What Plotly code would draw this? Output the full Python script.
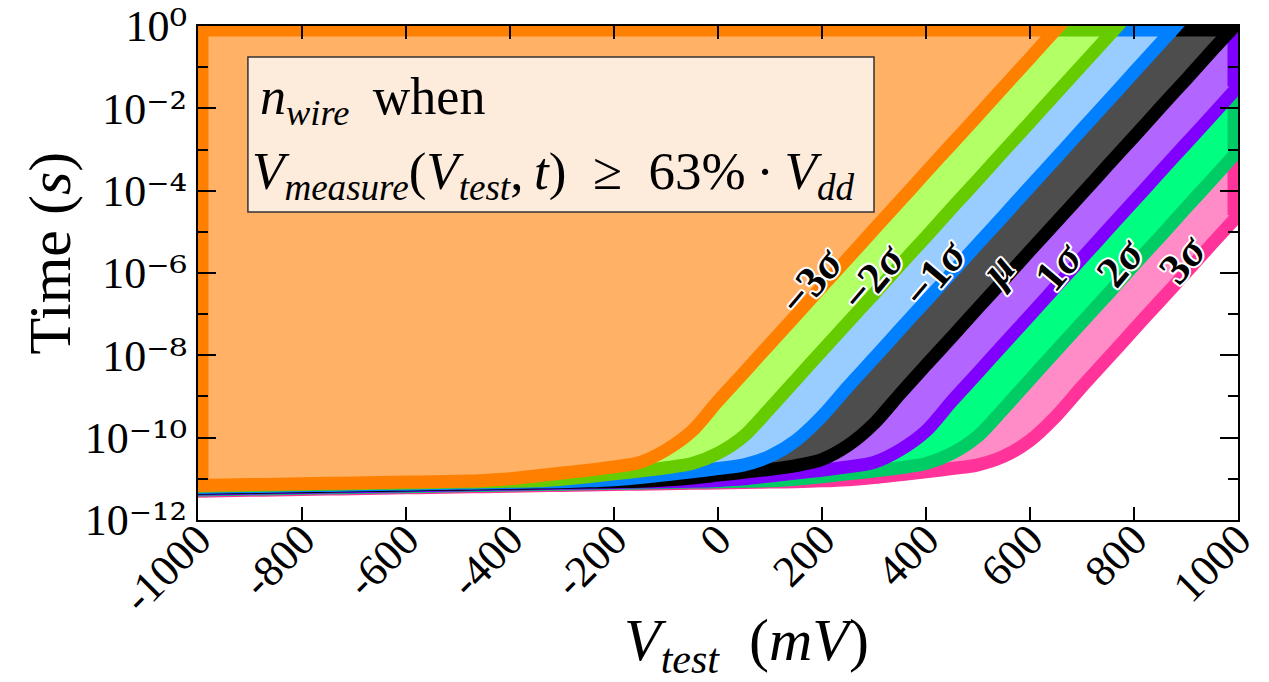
import numpy as np
import plotly.graph_objects as go

# Test voltage grid (mV)
v_test = [-1000, -950, -900, -850, -800, -750, -700, -650, -600, -550, -500, -450,
          -400, -350, -300, -250, -200, -150, -100, -50, 0, 50, 100, 150, 200, 250,
          300, 350, 400, 450, 500, 550, 600, 650, 700, 750, 800, 850, 900, 950, 1000]

# log10 of the time (s) at which V_measure reaches 63% of Vdd, per sigma corner
log_t_m3 = [-11.16, -11.15, -11.14, -11.13, -11.12, -11.11, -11.10, -11.09, -11.08, -11.07,
            -11.06, -11.04, -11.00, -10.93, -10.86, -10.79, -10.71, -10.60, -10.30, -9.84,
            -9.11, -8.42, -7.72, -7.03, -6.33, -5.64, -4.94, -4.25, -3.55, -2.86,
            -2.17, -1.47, -0.78, -0.08, 0.61, None, None, None, None, None, None]
log_t_m2 = [-11.18, -11.17, -11.16, -11.15, -11.14, -11.13, -11.12, -11.11, -11.10, -11.09,
            -11.08, -11.07, -11.06, -11.05, -11.01, -10.95, -10.88, -10.81, -10.73, -10.63,
            -10.38, -9.96, -9.29, -8.59, -7.89, -7.20, -6.51, -5.81, -5.12, -4.42,
            -3.73, -3.03, -2.34, -1.64, -0.95, -0.26, 0.44, None, None, None, None]
log_t_m1 = [-11.21, -11.20, -11.19, -11.18, -11.17, -11.16, -11.15, -11.14, -11.13, -11.12,
            -11.11, -11.10, -11.09, -11.08, -11.07, -11.05, -11.02, -10.97, -10.90, -10.83,
            -10.75, -10.66, -10.45, -10.07, -9.48, -8.76, -8.07, -7.37, -6.68, -5.99,
            -5.29, -4.60, -3.90, -3.21, -2.51, -1.82, -1.12, -0.43, 0.27, None, None]
log_t_mu = [-11.23, -11.22, -11.21, -11.20, -11.19, -11.18, -11.17, -11.16, -11.15, -11.14,
            -11.13, -11.12, -11.11, -11.10, -11.09, -11.08, -11.07, -11.06, -11.03, -10.98,
            -10.91, -10.84, -10.77, -10.68, -10.53, -10.19, -9.66, -8.94, -8.24, -7.55,
            -6.85, -6.16, -5.46, -4.77, -4.08, -3.38, -2.69, -1.99, -1.30, -0.60, 0.09]
log_t_p1 = [-11.25, -11.24, -11.23, -11.22, -11.21, -11.20, -11.19, -11.18, -11.17, -11.16,
            -11.15, -11.14, -11.13, -11.12, -11.11, -11.10, -11.09, -11.08, -11.07, -11.06,
            -11.04, -11.00, -10.93, -10.86, -10.79, -10.71, -10.60, -10.30, -9.84, -9.11,
            -8.42, -7.72, -7.03, -6.33, -5.64, -4.94, -4.25, -3.55, -2.86, -2.17, -1.47]
log_t_p2 = [-11.27, -11.26, -11.25, -11.24, -11.23, -11.22, -11.21, -11.20, -11.19, -11.18,
            -11.17, -11.16, -11.15, -11.14, -11.13, -11.12, -11.11, -11.10, -11.09, -11.08,
            -11.07, -11.06, -11.05, -11.01, -10.95, -10.88, -10.81, -10.73, -10.63, -10.38,
            -9.96, -9.29, -8.59, -7.89, -7.20, -6.51, -5.81, -5.12, -4.42, -3.73, -3.03]
log_t_p3 = [-11.30, -11.29, -11.28, -11.27, -11.26, -11.25, -11.24, -11.23, -11.22, -11.21,
            -11.20, -11.19, -11.18, -11.17, -11.16, -11.15, -11.14, -11.13, -11.12, -11.11,
            -11.10, -11.09, -11.08, -11.07, -11.05, -11.02, -10.97, -10.90, -10.83, -10.75,
            -10.66, -10.45, -10.07, -9.48, -8.76, -8.07, -7.37, -6.68, -5.99, -5.29, -4.60]

curve_names = ["\u22123<i>\u03c3</i>", "\u22122<i>\u03c3</i>", "\u22121<i>\u03c3</i>", "<i>\u03bc</i>",
               "1<i>\u03c3</i>", "2<i>\u03c3</i>", "3<i>\u03c3</i>"]
curve_data = [log_t_m3, log_t_m2, log_t_m1, log_t_mu, log_t_p1, log_t_p2, log_t_p3]
edge_colors = ["#FF8000", "#66CC00", "#0080FF", "#000000", "#8000FF", "#00CC66", "#FF3399"]
fill_colors = ["#FFB266", "#B3FF66", "#99CCFF", "#4D4D4D", "#B266FF", "#00FF80", "#FF8CC6"]

x_tick_vals = [-1000, -800, -600, -400, -200, 0, 200, 400, 600, 800, 1000]
x_tick_text = ["-1000", "-800", "-600", "-400", "-200", "0", "200", "400", "600", "800", "1000"]
y_tick_exp = [-12, -10, -8, -6, -4, -2, 0]
y_tick_power = ["\u207b\u00b9\u00b2", "\u207b\u00b9\u2070", "\u207b\u2078", "\u207b\u2076",
                "\u207b\u2074", "\u207b\u00b2", "\u2070"]
y_minor_exp = [-11, -9, -7, -5, -3, -1]

X_MIN, X_MAX = -1000, 1000
LOG_TOP = 0.0
SERIF = "Liberation Serif"
CURVE_SHAPE = dict(shape="spline", smoothing=0.8)


def valid_points(vals):
    v = np.array([xv for xv, lv in zip(v_test, vals) if lv is not None], dtype=float)
    lt = np.array([lv for lv in vals if lv is not None], dtype=float)
    return v, lt


fig = go.Figure()

# Regions are stacked from the slowest corner (3 sigma) to the fastest (-3 sigma);
# each one covers everything above / left of its own boundary curve.
for k in range(len(curve_data) - 1, -1, -1):
    v, lt = valid_points(curve_data[k])

    above = np.nonzero(lt >= LOG_TOP)[0]
    if len(above):
        j = above[0]
        v_cross = v[j - 1] + (LOG_TOP - lt[j - 1]) * (v[j] - v[j - 1]) / (lt[j] - lt[j - 1])
        bx = list(v[:j]) + [v_cross]
        by = list(lt[:j]) + [LOG_TOP]
        edge_x = [v_cross, X_MIN, X_MIN]
        edge_y = [LOG_TOP, LOG_TOP, lt[0]]
    else:
        v_cross = X_MAX
        bx = list(v)
        by = list(lt)
        edge_x = [X_MAX, X_MAX, X_MIN, X_MIN]
        edge_y = [lt[-1], LOG_TOP, LOG_TOP, lt[0]]

    # upper boundary of the region (top of the axes), then the curve filled up to it
    fig.add_trace(go.Scatter(
        x=[X_MIN, v_cross], y=[10 ** LOG_TOP, 10 ** LOG_TOP], mode="lines",
        line=dict(width=0, color=fill_colors[k]), hoverinfo="skip", showlegend=False))
    fig.add_trace(go.Scatter(
        x=bx, y=10 ** np.array(by), mode="lines", fill="tonexty",
        fillcolor=fill_colors[k], line=dict(width=0, color=fill_colors[k], **CURVE_SHAPE),
        hoverinfo="skip", showlegend=False))
    # border of the region along the frame
    fig.add_trace(go.Scatter(
        x=edge_x, y=10 ** np.array(edge_y), mode="lines",
        line=dict(width=21, color=edge_colors[k]),
        hoverinfo="skip", showlegend=False))
    # the corner curve itself
    fig.add_trace(go.Scatter(
        x=v, y=10 ** lt, mode="lines",
        line=dict(width=13, color=edge_colors[k], **CURVE_SHAPE),
        hoverinfo="skip", showlegend=False))

# Curve labels, placed just left of each boundary curve
outline = ", ".join(f"{dx}px {dy}px 0 white" for dx, dy in
                    [(2, 0), (-2, 0), (0, 2), (0, -2), (1.5, 1.5), (-1.5, -1.5), (1.5, -1.5), (-1.5, 1.5)])
for k, vals in enumerate(curve_data):
    v, lt = valid_points(vals)
    label_lt = -6.2 + 0.09 * k
    v_at = float(np.interp(label_lt, lt, v))
    fig.add_annotation(
        x=v_at - 30, y=label_lt, xref="x", yref="y", text=curve_names[k],
        xanchor="center", yanchor="middle",
        showarrow=False, textangle=-50,
        font=dict(family=SERIF, size=44, color="black", weight="bold", shadow=outline))

# Condition box
fig.add_shape(type="rect", xref="paper", yref="paper", x0=0.048, x1=0.65, y0=0.6235, y1=0.937,
              fillcolor="#FDEBDC", line=dict(color="#333333", width=1.5), layer="above")
fig.add_annotation(
    xref="paper", yref="paper", x=0.058, y=0.85, xanchor="left", yanchor="middle",
    text="<i>n</i><sub><i>wire</i></sub>\u2009 when", showarrow=False,
    font=dict(family=SERIF, size=52, color="black"))
fig.add_annotation(
    xref="paper", yref="paper", x=0.050, y=0.698, xanchor="left", yanchor="middle",
    text="<i>V</i><sub><i>measure</i></sub>(<i>V</i><sub><i>test</i></sub>,\u2009<i>t</i>)"
         "\u2002\u2265\u200263%\u2009\u00b7\u2009<i>V</i><sub><i>dd</i></sub>",
    showarrow=False, font=dict(family=SERIF, size=53, color="black"))

# Axis titles
fig.add_annotation(
    xref="paper", yref="paper", x=-0.142, y=0.54, xanchor="center", yanchor="middle",
    text="Time (<i>s</i>)", textangle=-90,
    showarrow=False, font=dict(family=SERIF, size=60, color="black"))
fig.add_annotation(
    xref="paper", yref="paper", x=0.527, y=-0.253, xanchor="center", yanchor="middle",
    text="<i>V</i><sub><i>test</i></sub>\u2002(<i>mV</i>)",
    showarrow=False, font=dict(family=SERIF, size=60, color="black"))

fig.update_xaxes(
    range=[X_MIN, X_MAX], tickmode="array", tickvals=x_tick_vals, ticktext=x_tick_text,
    tickangle=-45, ticks="inside", ticklen=13, tickwidth=2, tickcolor="black",
    ticklabelstandoff=-26, automargin=False,
    showline=True, linecolor="black", linewidth=2, mirror="ticks",
    showgrid=False, zeroline=False,
    tickfont=dict(family=SERIF, size=44, color="black"))
fig.update_yaxes(
    type="log", range=[-12.0005, 0.0005], tickmode="array",
    tickvals=[10.0 ** e for e in y_tick_exp],
    ticktext=['10<span style="font-family:DejaVu Serif">%s</span>' % p for p in y_tick_power],
    ticklabeloverflow="allow", automargin=False,
    ticks="inside", ticklen=18, tickwidth=2, tickcolor="black",
    minor=dict(tickmode="array", tickvals=[10.0 ** e for e in y_minor_exp],
               ticks="inside", ticklen=10, tickwidth=2, tickcolor="black"),
    showline=True, linecolor="black", linewidth=2, mirror="ticks",
    showgrid=False, zeroline=False,
    tickfont=dict(family=SERIF, size=44, color="black"))

fig.update_layout(
    width=1269, height=682,
    margin=dict(l=198, r=31, t=26, b=162, autoexpand=False),
    paper_bgcolor="white", plot_bgcolor="white",
    showlegend=False)

fig.write_html("out.html")
